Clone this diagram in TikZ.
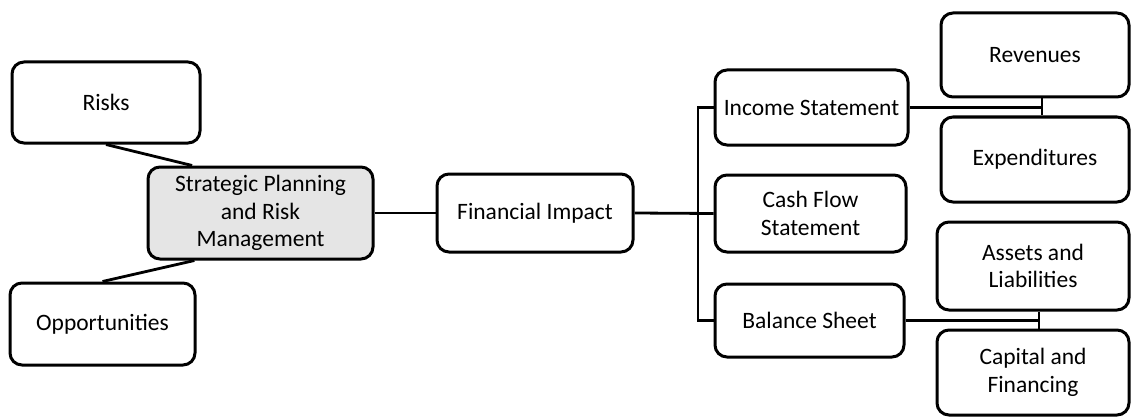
\documentclass[tikz,border=0pt]{standalone}
\usepackage{fontspec}
\setmainfont{Carlito}
\usetikzlibrary{calc}
\tikzset{
  box/.style={draw=black, line width=3pt, rounded corners=12pt, fill=white, inner sep=0pt, align=center,
    font=\fontsize{23.5}{27.5}\selectfont},
  conn/.style={draw=black, line width=2.8pt},
}
\begin{document}
\begin{tikzpicture}[x=1pt,y=-1pt]
\useasboundingbox (0,0) rectangle (1131,417);
\node[box, minimum width=188pt, minimum height=81pt] (risks) at (106,102.5) {Risks};
\node[box, minimum width=225pt, minimum height=92pt, fill=gray!20] (strat) at (260.5,213) {Strategic Planning\\and Risk\\Management};
\node[box, minimum width=185pt, minimum height=82pt] (opp) at (102.5,324) {Opportunities};
\node[box, minimum width=196pt, minimum height=78pt] (fin) at (535,213) {Financial Impact};
\node[box, minimum width=193pt, minimum height=75pt] (inc) at (811.5,107.5) {Income Statement};
\node[box, minimum width=191pt, minimum height=77pt] (cash) at (810.5,213.5) {Cash Flow\\Statement};
\node[box, minimum width=189pt, minimum height=73pt] (bal) at (809.5,320.5) {Balance Sheet};
\node[box, minimum width=188pt, minimum height=84pt] (rev) at (1035,55) {Revenues};
\node[box, minimum width=188pt, minimum height=85pt] (exp) at (1035,159.5) {Expenditures};
\node[box, minimum width=192pt, minimum height=88pt] (ass) at (1033,266) {Assets and\\Liabilities};
\node[box, minimum width=192pt, minimum height=85pt] (cap) at (1033,372.5) {Capital and\\Financing};
\coordinate (j) at (698,213);
\coordinate (k) at (1042,107.5);
\coordinate (m) at (1039,320.5);
\draw[conn] (risks.south) -- ($(strat.north west)!0.2!(strat.north east)$);
\draw[conn] (opp.north) -- ($(strat.south west)!0.21!(strat.south east)$);
\draw[conn] (strat.east) -- (fin.west);
\draw[conn] (fin.east) -- (cash.west);
\draw[conn] (inc.west) -- (j |- inc.west) -- (j |- bal.west) -- (bal.west);
\draw[conn] (inc.east) -- (k);
\draw[conn] (k |- rev.south) -- (k |- exp.north);
\draw[conn] (bal.east) -- (m);
\draw[conn] (m |- ass.south) -- (m |- cap.north);
\end{tikzpicture}
\end{document}
